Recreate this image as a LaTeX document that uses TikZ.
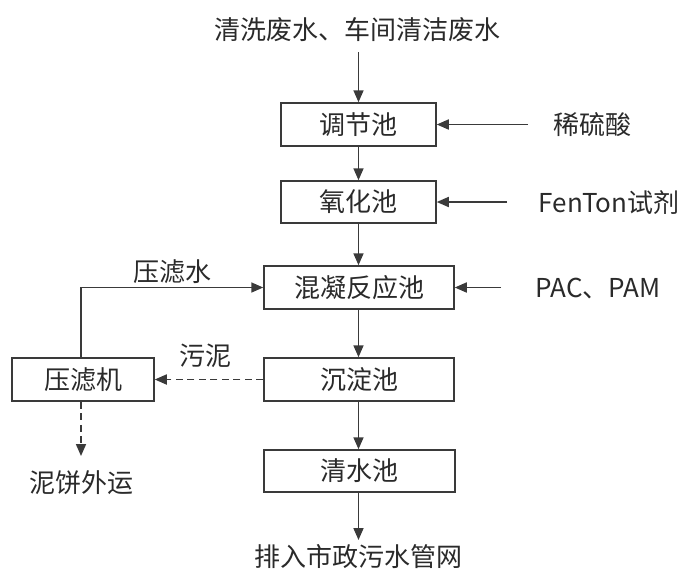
\documentclass[tikz,border=0pt]{standalone}
\usepackage{fontspec}
\setmainfont{Noto Sans CJK SC}
\usetikzlibrary{arrows.meta}
\definecolor{ln}{HTML}{3A3A3A}
\definecolor{tx}{HTML}{2A2A2A}
\tikzset{
  boxn/.style={draw=ln, line width=1.5pt, inner sep=0pt, text=tx, font=\fontsize{26}{28}\selectfont},
  lbl/.style={inner sep=0pt, text=tx, font=\fontsize{26}{28}\selectfont},
  conn/.style={draw=ln, line width=1.7pt, -{Triangle[length=12pt,width=10pt]}},
  dconn/.style={conn, dash pattern=on 7pt off 4.5pt}
}
\begin{document}
\begin{tikzpicture}[x=1pt,y=-1pt]
\useasboundingbox (0,0) rectangle (683,574);
% boxes
\node[boxn, minimum width=155pt, minimum height=43pt] (b1) at (358.5,124.5) {调节池};
\node[boxn, minimum width=155pt, minimum height=42pt] (b2) at (358.5,202) {氧化池};
\node[boxn, minimum width=190pt, minimum height=43pt] (b3) at (359,287.5) {混凝反应池};
\node[boxn, minimum width=190pt, minimum height=43pt] (b4) at (359,379.5) {沉淀池};
\node[boxn, minimum width=142pt, minimum height=43pt] (b5) at (83,379.5) {压滤机};
\node[boxn, minimum width=191pt, minimum height=42pt] (b6) at (359.5,471) {清水池};
% labels
\node[lbl] (top) at (357,30) {清洗废水、车间清洁废水};
\node[lbl] (bot) at (358,557) {排入市政污水管网};
\node[lbl] (r1) at (592,125) {稀硫酸};
\node[lbl] (r2) at (609,203) {FenTon试剂};
\node[lbl] (r3) at (598,289) {PAC、PAM};
\node[lbl] (l1) at (172,272) {压滤水};
\node[lbl] (l2) at (205,356) {污泥};
\node[lbl] (l3) at (81,483) {泥饼外运};
% free ends
\coordinate (s0) at (358.5,52);
\coordinate (s1) at (528,124.5);
\coordinate (s2) at (507,202);
\coordinate (s3) at (501,287.5);
\coordinate (e6) at (358.5,540);
\coordinate (e5) at (81,456);
\coordinate (k1) at (81,287.5);
% connectors
\draw[conn] (s0) -- (b1.north -| s0);
\draw[conn] (b1.south -| s0) -- (b2.north -| s0);
\draw[conn] (b2.south -| s0) -- (b3.north -| s0);
\draw[conn] (b3.south -| s0) -- (b4.north -| s0);
\draw[conn] (b4.south -| s0) -- (b6.north -| s0);
\draw[conn] (b6.south -| s0) -- (e6);
\draw[conn] (s1) -- (b1.east);
\draw[conn] (s2) -- (b2.east);
\draw[conn] (s3) -- (b3.east);
\draw[conn] (b5.north -| k1) -- (k1) -- (b3.west);
\draw[dconn] (b4.west) -- (b5.east);
\draw[dconn] (b5.south -| e5) -- (e5);
\end{tikzpicture}
\end{document}
